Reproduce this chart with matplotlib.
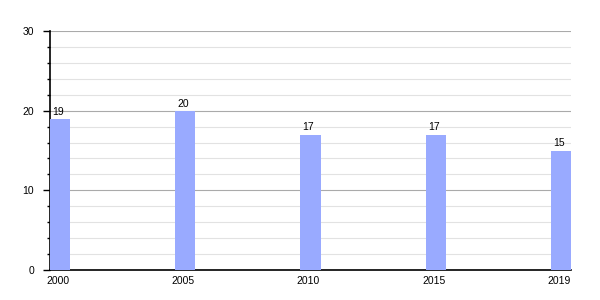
import numpy as np
import matplotlib
matplotlib.use('Agg')
import matplotlib.pyplot as plt
from matplotlib.ticker import MultipleLocator
from matplotlib.transforms import ScaledTranslation

plt.rcParams['font.family'] = ['Liberation Sans', 'DejaVu Sans']

# data
years = ['2000', '2005', '2010', '2015', '2019']
values = [19, 20, 17, 17, 15]

bar_color = '#99aaff'
fs = 7.5

fig = plt.figure(figsize=(6, 3), dpi=100)
ax = fig.add_axes([50 / 600, 1 - 270 / 300, 521 / 600, 239 / 300])

x = np.arange(len(years))
bars = ax.bar(x, values, width=0.16, color=bar_color, zorder=3)

for xi, v in zip(x, values):
    ax.annotate(str(v), (xi, v), xytext=(-1.5, 1.5), textcoords='offset points',
                ha='center', va='bottom', fontsize=fs, color='black', zorder=4)

ax.set_xlim(-0.08, len(years) - 1 + 0.08)
ax.set_ylim(0, 30)
ax.set_xticks(x)
ax.set_xticklabels(years)
ax.yaxis.set_major_locator(MultipleLocator(10))
ax.yaxis.set_minor_locator(MultipleLocator(2))

ax.grid(True, axis='y', which='major', color='#aaaaaa', linewidth=0.8, zorder=1)
ax.grid(True, axis='y', which='minor', color='#e2e2e2', linewidth=0.8, zorder=0)
ax.set_axisbelow(True)

ax.tick_params(axis='y', which='major', length=5, width=1, pad=6.5, labelsize=fs)
ax.tick_params(axis='y', which='minor', length=2.5, width=1)
ax.tick_params(axis='x', which='both', length=0, pad=4, labelsize=fs)

# nudge year labels slightly left, like the original
shift = ScaledTranslation(-1.5 / 72, 0, fig.dpi_scale_trans)
for lab in ax.get_xticklabels():
    lab.set_transform(lab.get_transform() + shift)

ax.spines['top'].set_visible(False)
ax.spines['right'].set_visible(False)
ax.spines['left'].set_linewidth(1.2)
ax.spines['bottom'].set_linewidth(1.2)

fig.savefig('out.png', dpi=100)
plt.close(fig)
